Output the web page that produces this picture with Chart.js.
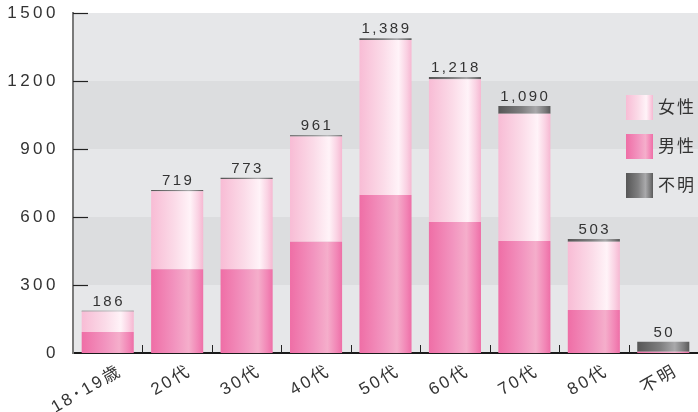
<!DOCTYPE html>
<html><head><meta charset="utf-8">
<script src="https://cdn.jsdelivr.net/npm/chart.js@4/dist/chart.umd.min.js"></script>
<style>html,body{margin:0;padding:0;background:#fff}#wrap{width:698px;height:412px;position:relative}</style>
</head><body><div id="wrap"><canvas id="c"></canvas></div>
<script>
const categories = ['18･19歳','20代','30代','40代','50代','60代','70代','80代','不明'];
const male = [93,370,370,491,697,578,494,190,5];
const female = [90,344,398,464,684,630,561,301,0];
const unknown = [3,5,5,6,8,10,35,12,45];
const totals = [186,719,773,961,1389,1218,1090,503,50];
const yTicks = [0,300,600,900,1200,1500];
const legendLabels = ['女性','男性','不明'];

const FONT = "'Liberation Sans', 'Noto Sans CJK JP', sans-serif";
const maleStops = [[0,'#ef6ea6'],[0.45,'#f294bf'],[0.72,'#f5aecb'],[0.9,'#f286b6'],[1,'#ee6fa7']];
const femaleStops = [[0,'#f8bcd5'],[0.45,'#fbdbe8'],[0.75,'#fff3f8'],[0.9,'#fad2e3'],[1,'#f6b8d2']];
const grayStops = [[0,'#565656'],[0.45,'#7f7f80'],[0.72,'#a9a9ab'],[0.9,'#7a7a7b'],[1,'#5a5a5a']];
const BAR_PCT = 0.75;
const X_SPACING = '2.5px';

function makeGrad(ctx2d, x0, x1, stops){
  const g = ctx2d.createLinearGradient(x0,0,x1,0);
  stops.forEach(s=>g.addColorStop(s[0],s[1]));
  return g;
}
function barGrad(stops){
  return (c)=>{
    const chart = c.chart; const xs = chart.scales && chart.scales.x;
    if(!xs || c.dataIndex == null || !isFinite(xs.width)) return stops[0][1];
    const cx = xs.getPixelForValue(c.dataIndex);
    const w = xs.width / categories.length * BAR_PCT;
    return makeGrad(chart.ctx, cx - w/2, cx + w/2, stops);
  };
}

const decor = {
  id:'decor',
  beforeLayout(chart){ chart.ctx.letterSpacing='3.5px'; },
  beforeDraw(chart){
    const ctx = chart.ctx; const a = chart.chartArea; const y = chart.scales.y;
    ctx.save();
    for(let i=0;i<yTicks.length-1;i++){
      const top = y.getPixelForValue(yTicks[i+1]);
      const bot = y.getPixelForValue(yTicks[i]);
      ctx.fillStyle = (i%2===0) ? '#e6e7e9' : '#dcdddf';
      ctx.fillRect(a.left, top, a.right-a.left, bot-top);
    }
    ctx.restore();
    ctx.letterSpacing='3.5px';
  },
  afterDatasetsDraw(chart){
    const ctx = chart.ctx; const a = chart.chartArea; const x = chart.scales.x; const y = chart.scales.y;
    ctx.save();
    ctx.strokeStyle = '#222'; ctx.lineWidth = 1.2;
    yTicks.forEach(v=>{ if(v===0) return; const py = Math.round(y.getPixelForValue(v))+0.5;
      ctx.beginPath(); ctx.moveTo(a.left, py); ctx.lineTo(a.left+15, py); ctx.stroke(); });
    const step = (a.right-a.left)/categories.length;
    ctx.lineWidth = 1;
    for(let i=1;i<categories.length;i++){
      const px = Math.round(a.left + step*i)+0.5;
      ctx.beginPath(); ctx.moveTo(px, a.bottom); ctx.lineTo(px, a.bottom-8); ctx.stroke();
    }
    ctx.letterSpacing = '2.5px';
    ctx.font = '15px ' + FONT; ctx.fillStyle = '#333'; ctx.textAlign='center'; ctx.textBaseline='alphabetic';
    totals.forEach((t,i)=>{
      const px = x.getPixelForValue(i); const py = y.getPixelForValue(t);
      ctx.fillText(t.toLocaleString('en-US'), px+1, py-5);
    });
    const lx = 626, lw = 27, lh = 25;
    const lys = [95,134,173];
    const lstops = [femaleStops, maleStops, grayStops];
    ctx.letterSpacing = '2px';
    ctx.font = '17px ' + FONT; ctx.textAlign='left'; ctx.textBaseline='middle';
    legendLabels.forEach((lab,i)=>{
      ctx.fillStyle = makeGrad(ctx, lx, lx+lw, lstops[i]);
      ctx.fillRect(lx, lys[i], lw, lh);
      ctx.fillStyle = '#333';
      ctx.fillText(lab, lx+lw+5, lys[i]+lh/2+1);
    });
    ctx.restore();
    ctx.letterSpacing = X_SPACING;
  }
};

new Chart(document.getElementById('c'), {
  type:'bar',
  data:{
    labels: categories,
    datasets:[
      {label:'男性', data: male, backgroundColor: barGrad(maleStops)},
      {label:'女性', data: female, backgroundColor: barGrad(femaleStops)},
      {label:'不明', data: unknown, backgroundColor: barGrad(grayStops)}
    ]
  },
  options:{
    responsive:true, maintainAspectRatio:false, animation:false, events:[],
    layout:{padding:{top:13,right:0,left:0,bottom:0}},
    datasets:{bar:{barPercentage:BAR_PCT, categoryPercentage:1, borderWidth:0}},
    plugins:{legend:{display:false}, tooltip:{enabled:false}},
    scales:{
      x:{stacked:true,
        grid:{display:false},
        border:{display:true, color:'#1a1a1a', width:2},
        ticks:{z:1, color:'#333', font:{size:17, family:FONT}, maxRotation:30, minRotation:30, autoSkip:false, labelOffset:13, padding:0},
        afterFit(s){ s.height = 59; s.paddingLeft = 0; s.paddingRight = 0; }
      },
      y:{stacked:true, min:0, max:1500,
        grid:{display:false},
        border:{display:true, color:'#7a7a7a', width:2},
        ticks:{stepSize:300, color:'#333', font:{size:17, family:FONT}, padding:6, callback:(v)=>String(v)},
        afterFit(s){ s.width = 73; s.paddingTop = 0; s.paddingBottom = 0; }
      }
    }
  },
  plugins:[decor]
});
</script>
</body></html>
